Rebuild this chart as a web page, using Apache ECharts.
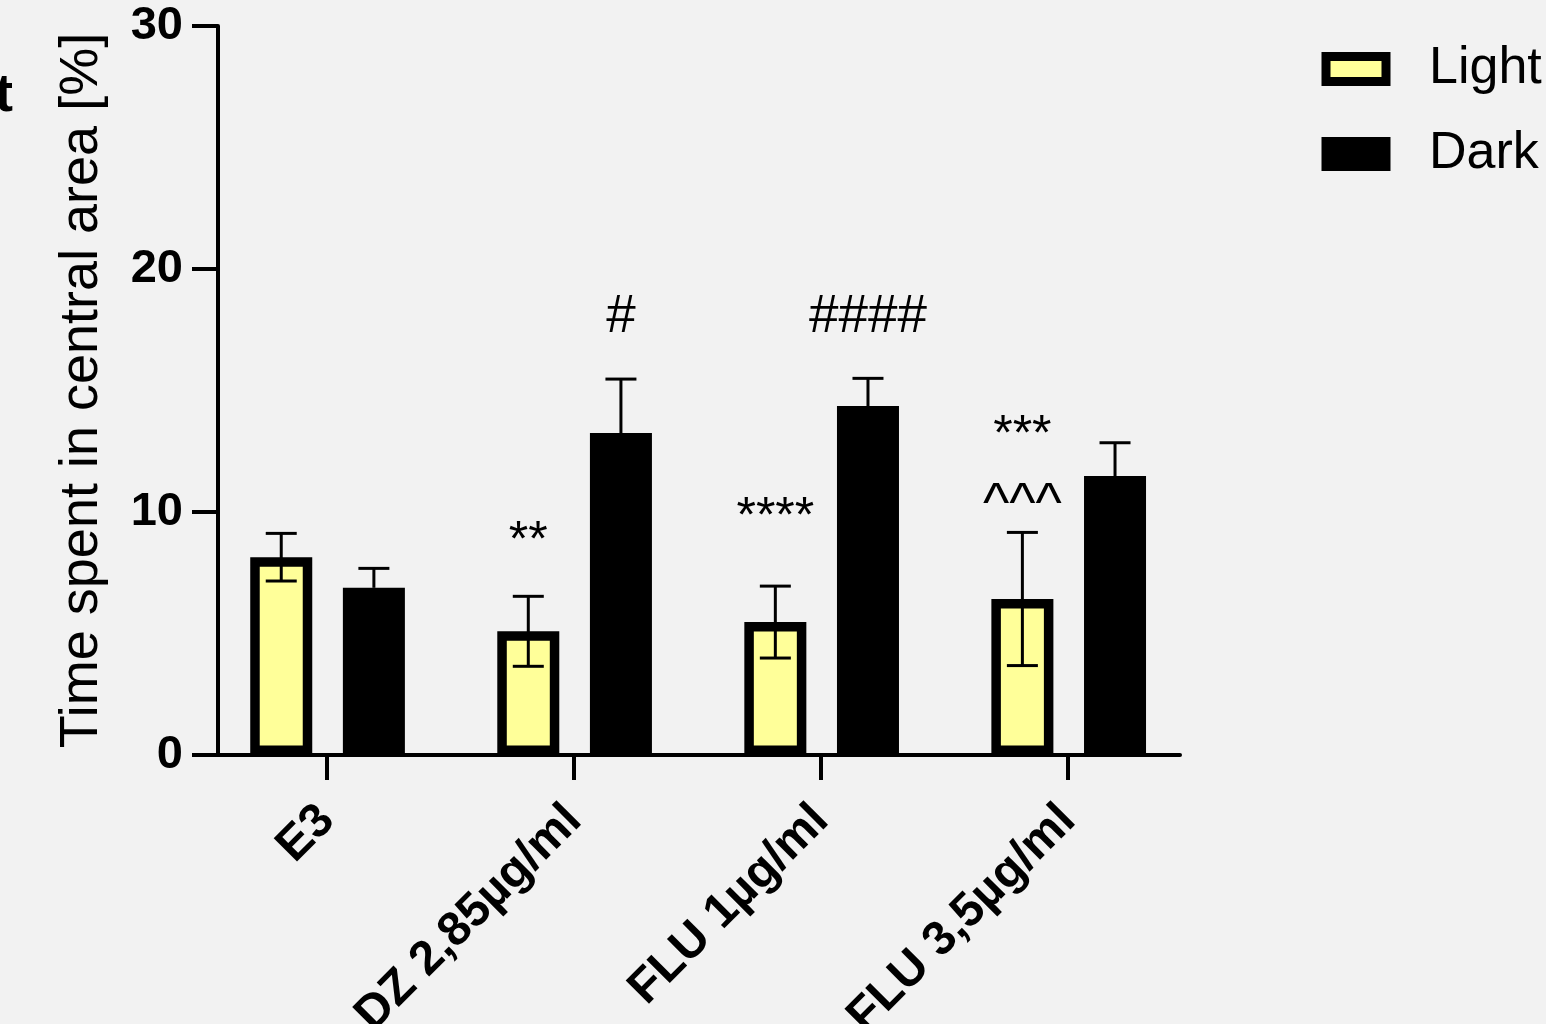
<!DOCTYPE html>
<html><head><meta charset="utf-8">
<script src="https://cdn.jsdelivr.net/npm/echarts@6/dist/echarts.min.js"></script>
<style>html,body{margin:0;padding:0;background:#F2F2F2}#c{width:1546px;height:1024px}</style>
</head><body><div id="c"></div>
<script>
// ---- data ----
const categories = ['E3', 'DZ 2,85µg/ml', 'FLU 1µg/ml', 'FLU 3,5µg/ml'];
const lightMean = [8.14, 5.09, 5.47, 6.42];
const lightSem  = [0.98, 1.44, 1.48, 2.74];
const darkMean  = [6.88, 13.25, 14.36, 11.48];
const darkSem   = [0.80, 2.22, 1.14, 1.37];
const starText   = ['', '**', '****', '***'];
const starLevel  = [null, 8.77, 9.75, 13.13];
const caretText  = ['', '', '', '^^^'];
const caretLevel = [null, null, null, 10.27];
const hashText   = ['', '#', '####', ''];
const hashLevel  = [null, 18.02, 18.02, null];
const yMin = 0, yMax = 30, yStep = 10;

// ---- layout / style constants ----
const FONT = '"Liberation Sans", Arial, sans-serif';
const YELLOW = '#FFFF99';
const BAR_W = 0.251, LIGHT_OFF = -0.185, DARK_OFF = 0.19;
const BORDER = 9.5, ERR_W = 3, CAP = 31;
const X_MIN = -0.441, X_MAX = 3.453;
const idx = categories.map((c, i) => i);

function errLines(api, x, mean, sem, both) {
  const st = {stroke: '#000', lineWidth: ERR_W};
  const top = api.coord([x, mean + sem]);
  const bot = api.coord([x, both ? mean - sem : mean]);
  const kids = [
    {type: 'line', shape: {x1: top[0], y1: top[1], x2: bot[0], y2: bot[1]}, style: st},
    {type: 'line', shape: {x1: top[0] - CAP / 2, y1: top[1], x2: top[0] + CAP / 2, y2: top[1]}, style: st}
  ];
  if (both) kids.push({type: 'line', shape: {x1: bot[0] - CAP / 2, y1: bot[1], x2: bot[0] + CAP / 2, y2: bot[1]}, style: st});
  return kids;
}

function lightItem(params, api) {
  const i = api.value(0), m = api.value(1), s = api.value(2);
  const x = i + LIGHT_OFF;
  const tl = api.coord([x - BAR_W / 2, m]);
  const br = api.coord([x + BAR_W / 2, 0]);
  const rect = {type: 'rect',
    shape: {x: tl[0] + BORDER / 2, y: tl[1] + BORDER / 2, width: br[0] - tl[0] - BORDER, height: br[1] - tl[1] - BORDER},
    style: {fill: YELLOW, stroke: '#000', lineWidth: BORDER}};
  return {type: 'group', children: [rect].concat(errLines(api, x, m, s, true))};
}

function darkItem(params, api) {
  const i = api.value(0), m = api.value(1), s = api.value(2);
  const x = i + DARK_OFF;
  const tl = api.coord([x - BAR_W / 2, m]);
  const br = api.coord([x + BAR_W / 2, 0]);
  const rect = {type: 'rect', shape: {x: tl[0], y: tl[1], width: br[0] - tl[0], height: br[1] - tl[1]},
    style: {fill: '#000'}};
  return {type: 'group', children: [rect].concat(errLines(api, x, m, s, false))};
}

function annotItem(params, api) {
  const i = params.dataIndex;
  const kids = [];
  const add = (txt, lvl, off, size) => {
    if (!txt || lvl == null) return;
    const p = api.coord([i + off, lvl]);
    kids.push({type: 'text', x: p[0], y: p[1],
      style: {text: txt, fill: '#000', fontSize: size, fontFamily: FONT, align: 'center', verticalAlign: 'middle'}});
  };
  add(starText[i], starLevel[i], LIGHT_OFF, 50);
  add(caretText[i], caretLevel[i], LIGHT_OFF, 56);
  add(hashText[i], hashLevel[i], DARK_OFF, 53);
  return {type: 'group', children: kids};
}

const chart = echarts.init(document.getElementById('c'), null, {renderer: 'canvas'});
chart.setOption({
  backgroundColor: '#F2F2F2',
  animation: false,
  title: {text: 't', left: -10, top: 64, textStyle: {fontSize: 54, fontWeight: 'bold', color: '#000', fontFamily: FONT}},
  grid: {left: 218, right: 366, top: 26, bottom: 269, containLabel: false, outerBoundsMode: 'none'},
  legend: {
    orient: 'vertical', left: 1316.5, top: 38, itemWidth: 60, itemHeight: 25, itemGap: 33, icon: 'rect',
    textStyle: {fontSize: 52, color: '#000', fontFamily: FONT, padding: [0, 0, 0, 38]},
    data: [
      {name: 'Light', itemStyle: {color: YELLOW, borderColor: '#000', borderWidth: 9}},
      {name: 'Dark', itemStyle: {color: '#000', borderColor: '#000', borderWidth: 9}}
    ]
  },
  xAxis: {
    type: 'value', min: X_MIN, max: X_MAX,
    splitLine: {show: false},
    axisLine: {show: true, onZero: false, lineStyle: {color: '#000', width: 4}},
    axisTick: {show: true, customValues: idx, length: 25, lineStyle: {color: '#000', width: 4}},
    axisLabel: {customValues: idx, formatter: v => categories[Math.round(v)], rotate: 45, margin: 58,
      padding: [11, 0, 0, 0],
      fontSize: 48, fontWeight: 'bold', color: '#000', fontFamily: FONT}
  },
  yAxis: {
    type: 'value', min: yMin, max: yMax, interval: yStep,
    name: 'Time spent in central area [%]', nameLocation: 'middle', nameGap: 109,
    nameTextStyle: {fontSize: 54, color: '#000', fontFamily: FONT},
    splitLine: {show: false},
    axisLine: {show: true, onZero: false, lineStyle: {color: '#000', width: 4}},
    axisTick: {show: true, length: 26, lineStyle: {color: '#000', width: 4}},
    axisLabel: {margin: 35, fontSize: 47, fontWeight: 'bold', color: '#000', fontFamily: FONT,
      padding: [4, 0, 0, 0]}
  },
  series: [
    {name: 'Light', type: 'custom', itemStyle: {color: YELLOW}, renderItem: lightItem,
      data: idx.map(i => [i, lightMean[i], lightSem[i]]), encode: {x: 0, y: 1}},
    {name: 'Dark', type: 'custom', itemStyle: {color: '#000'}, renderItem: darkItem,
      data: idx.map(i => [i, darkMean[i], darkSem[i]]), encode: {x: 0, y: 1}},
    {name: 'annotations', type: 'custom', renderItem: annotItem, silent: true,
      data: idx.map(i => [i, 0]), encode: {x: 0, y: 1}}
  ]
});
</script></body></html>
